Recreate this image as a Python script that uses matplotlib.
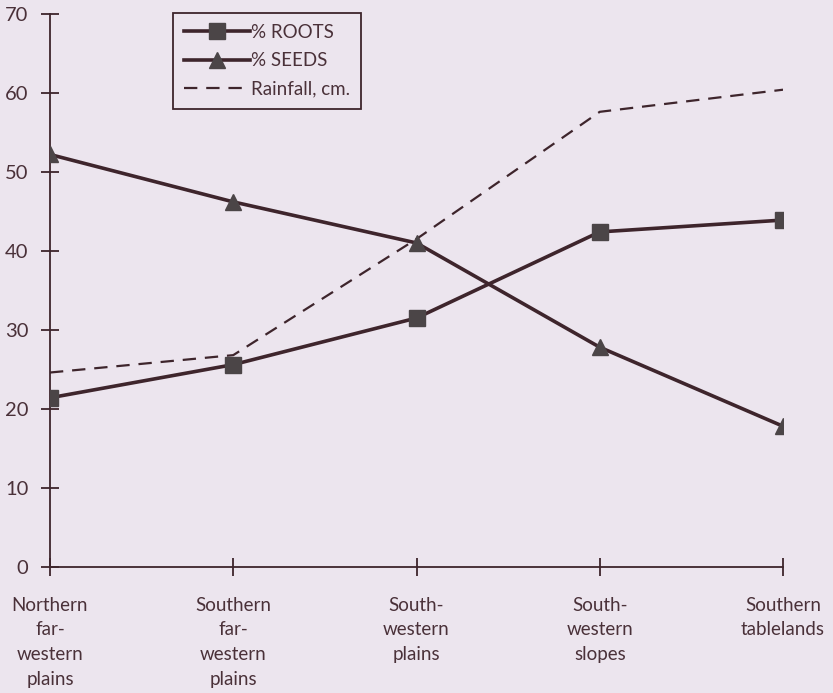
import matplotlib.pyplot as plt

# Regiones, de noroeste a sureste
regiones = ["Northern\nfar-\nwestern\nplains", "Southern\nfar-\nwestern\nplains",
            "South-\nwestern\nplains", "South-\nwestern\nslopes", "Southern\ntablelands"]
pct_raices = [21.4, 25.6, 31.5, 42.4, 43.9]
pct_semillas = [52.2, 46.2, 41.0, 27.8, 17.8]
lluvia_cm = [24.6, 26.8, 41.5, 57.6, 60.4]
yticks = [0, 10, 20, 30, 40, 50, 60, 70]

fondo = "#ece5ee"
granate = "#3e252c"
gris = "#4b4547"
texto = "#4a3139"

plt.rcParams['font.family'] = ['Lato', 'DejaVu Sans']

fig = plt.figure(figsize=(8.33, 6.93), dpi=100, facecolor=fondo)
ax = fig.add_axes([0.06, 0.182, 0.88, 0.798], facecolor=fondo)

x = list(range(len(regiones)))
ax.plot(x, pct_raices, color=granate, linewidth=2.6, marker='s', markersize=11.5,
        markerfacecolor=gris, markeredgecolor=gris, label='% ROOTS', zorder=3)
ax.plot(x, pct_semillas, color=granate, linewidth=2.6, marker='^', markersize=12,
        markerfacecolor=gris, markeredgecolor=gris, label='% SEEDS', zorder=3)
ax.plot(x, lluvia_cm, color=granate, linewidth=1.6, linestyle=(0, (6, 4)),
        label='Rainfall, cm.', zorder=2)

ax.set_xlim(0, 4)
ax.set_ylim(0, 70)
ax.set_xticks(x)
ax.set_xticklabels(regiones, fontsize=13.5, color=texto, linespacing=1.55, va='top')
ax.set_yticks(yticks)
ax.set_yticklabels([str(v) for v in yticks], fontsize=14.5, color=texto)

for lado in ['top', 'right']:
    ax.spines[lado].set_visible(False)
for lado in ['left', 'bottom']:
    ax.spines[lado].set_color(granate)
    ax.spines[lado].set_linewidth(1.3)
ax.spines['left'].set_zorder(1)

ax.tick_params(axis='both', direction='inout', length=13, width=1.3, color=granate)
ax.tick_params(axis='x', pad=15)
ax.tick_params(axis='y', pad=9)

leg = ax.legend(loc='upper left', bbox_to_anchor=(0.168, 1.002), borderaxespad=0,
                fontsize=13.5, handlelength=3.5, handletextpad=0.05, labelspacing=0.6,
                fancybox=False, frameon=True, borderpad=0.6, labelcolor=texto)
leg.get_frame().set_edgecolor(granate)
leg.get_frame().set_facecolor(fondo)
leg.get_frame().set_linewidth(1.3)
leg.get_frame().set_alpha(1)

fig.savefig('out.png', dpi=100, facecolor=fondo)
